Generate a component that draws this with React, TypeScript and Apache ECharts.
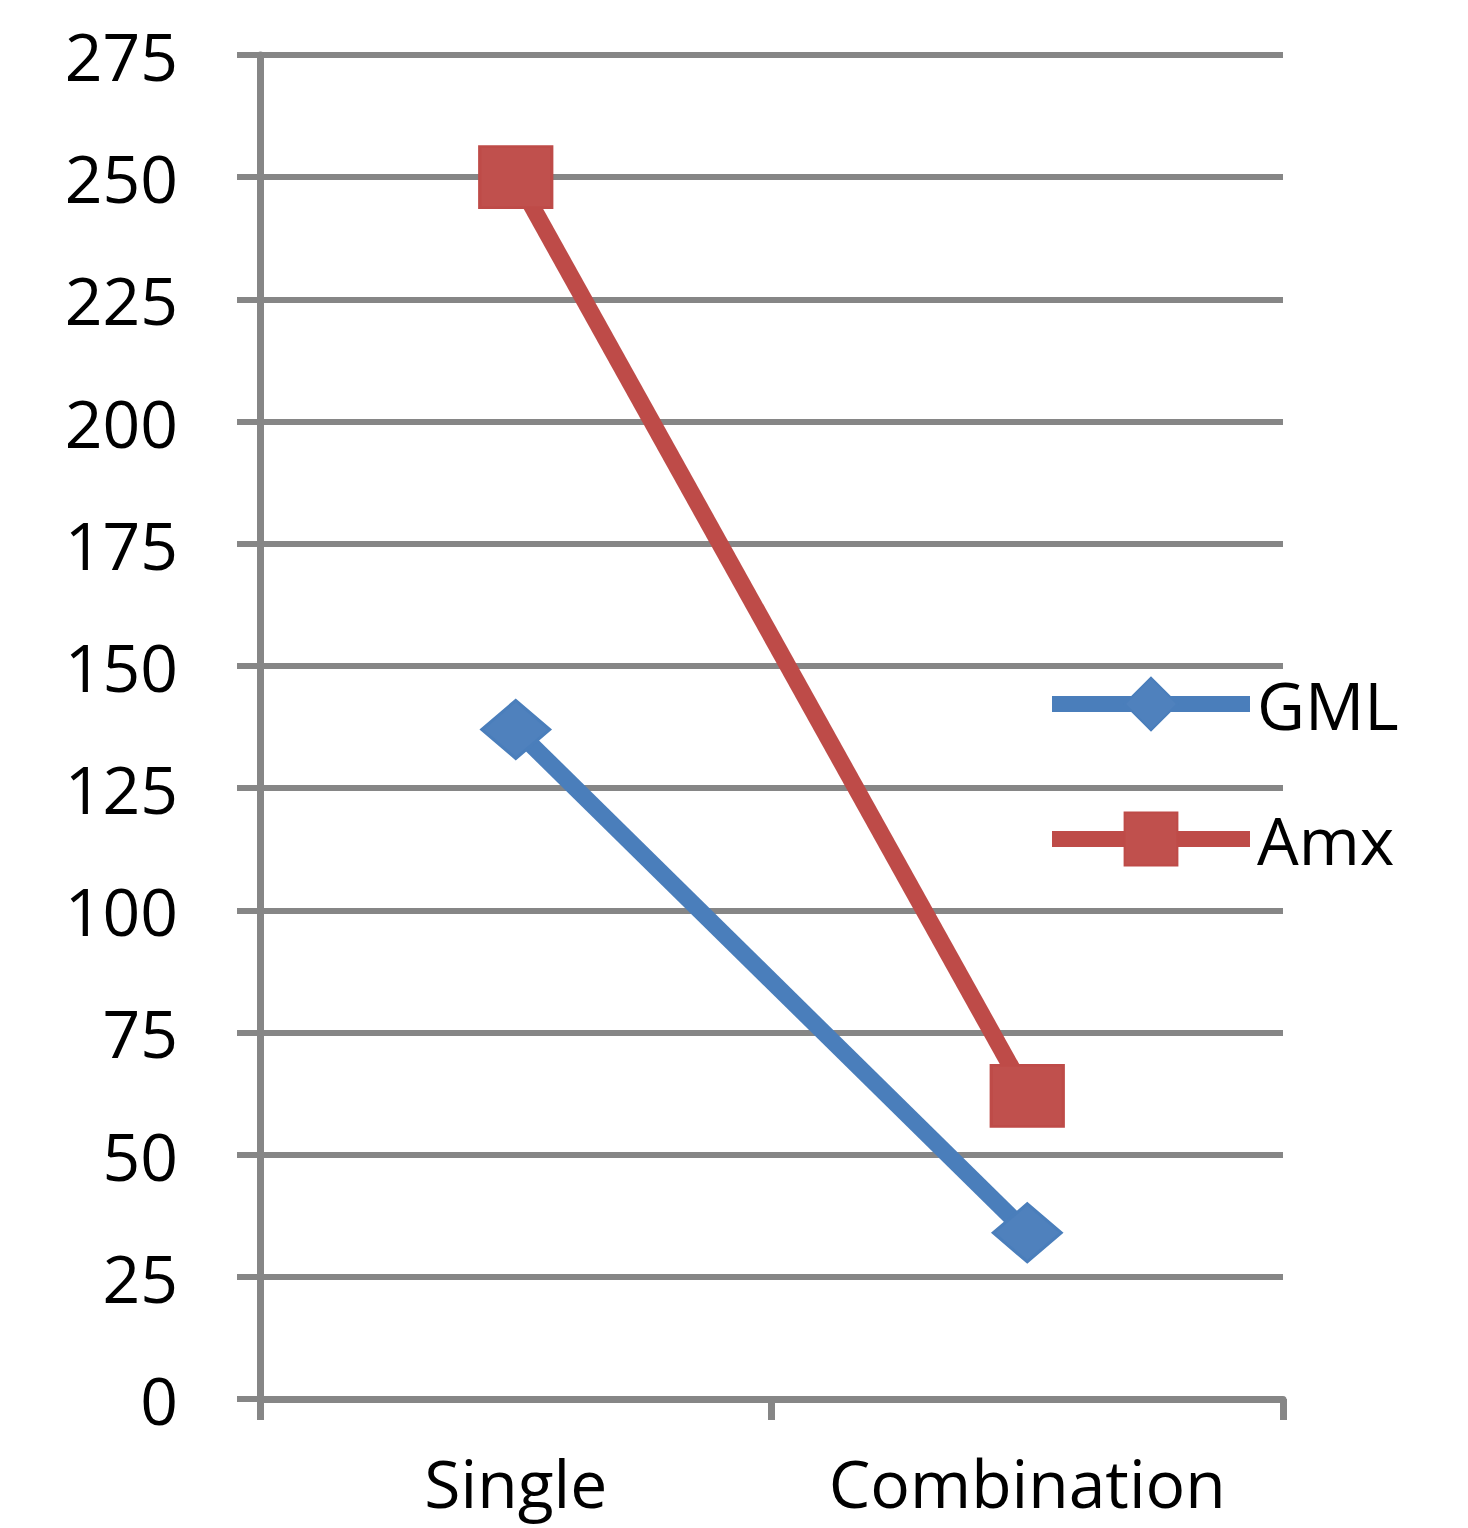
import React, { useEffect, useRef } from "react";
import * as echarts from "echarts";

const categories = ["Single", "Combination"];
const gmlValues = [137, 34];
const amxValues = [250, 62];
const yMin = 0;
const yMax = 275;
const yInterval = 25;

const FONT = "Open Sans";
const GRID_GREY = "#868686";

export default function App() {
  const ref = useRef<HTMLDivElement>(null);
  useEffect(() => {
    if (!ref.current) return;
    const chart = echarts.init(ref.current, undefined, { renderer: "svg" });
    chart.setOption({
      animation: false,
      backgroundColor: "#ffffff",
      grid: { left: 260, right: 185, top: 55, bottom: 129, containLabel: false },
      legend: {
        orient: "vertical",
        left: 1044,
        top: 671,
        padding: 0,
        itemWidth: 198,
        itemHeight: 66,
        itemGap: 69,
        textStyle: { fontFamily: FONT, fontSize: 66, color: "#000000", padding: [0, 0, 0, 2] },
        lineStyle: { width: 16 },
        data: ["GML", "Amx"],
      },
      xAxis: {
        type: "category",
        data: categories,
        boundaryGap: true,
        axisLine: { show: true, lineStyle: { color: GRID_GREY, width: 7 } },
        axisTick: { show: true, length: 21, alignWithLabel: false, lineStyle: { color: GRID_GREY, width: 7 } },
        axisLabel: { interval: 0, fontFamily: FONT, fontSize: 66, color: "#000000", margin: 50 },
        splitLine: { show: false },
      },
      yAxis: {
        type: "value",
        min: yMin,
        max: yMax,
        interval: yInterval,
        axisLine: { show: true, lineStyle: { color: GRID_GREY, width: 7 } },
        axisTick: { show: true, length: 23, lineStyle: { color: GRID_GREY, width: 6 } },
        axisLabel: { fontFamily: FONT, fontSize: 66, color: "#000000", margin: 82 },
        splitLine: { show: true, lineStyle: { color: GRID_GREY, width: 6 } },
      },
      series: [
        {
          name: "GML",
          type: "line",
          data: gmlValues,
          symbol: "diamond",
          symbolSize: [68, 58],
          lineStyle: { color: "#4A7EBB", width: 17 },
          itemStyle: { color: "#4F81BD", borderColor: "#4A7EBB", borderWidth: 3 },
          z: 3,
        },
        {
          name: "Amx",
          type: "line",
          data: amxValues,
          symbol: "rect",
          symbolSize: [72, 61],
          lineStyle: { color: "#BE4B48", width: 17 },
          itemStyle: { color: "#C0504D", borderColor: "#BE4B48", borderWidth: 3 },
          z: 3,
        },
      ],
    });
    return () => chart.dispose();
  }, []);
  return (
    <div
      ref={ref}
      style={{ position: "fixed", left: 0, top: 0, width: 1468, height: 1528 }}
    />
  );
}
